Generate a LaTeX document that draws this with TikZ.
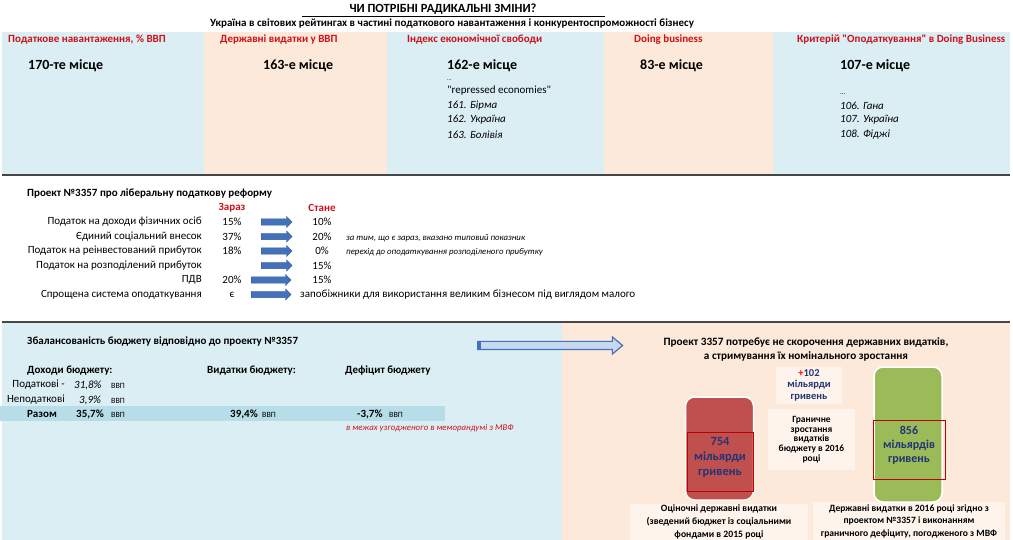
\documentclass[tikz,border=0pt]{standalone}
\usepackage{fontspec}
\setmainfont{Carlito}[Ligatures=TeXOff]
\usepackage{xcolor}
\usepackage{tikz}
\usetikzlibrary{shapes.arrows}

\definecolor{bandblue}{RGB}{219,238,244}
\definecolor{bandpeach}{RGB}{253,233,217}
\definecolor{rowblue}{RGB}{183,222,232}
\definecolor{headred}{RGB}{208,16,24}
\definecolor{arrblue}{RGB}{68,114,186}
\definecolor{arrlight}{RGB}{198,217,241}
\definecolor{boxred}{RGB}{192,80,77}
\definecolor{boxgreen}{RGB}{155,187,89}
\definecolor{numnavy}{RGB}{32,52,120}
\definecolor{rulegray}{RGB}{70,70,70}

\begin{document}
\begin{tikzpicture}[x=1pt, y=-1pt, inner sep=0pt,
    colhead/.style={anchor=west, text=headred, font=\fontsize{11}{13}\selectfont\bfseries},
    rank/.style={anchor=west, font=\fontsize{14}{16}\selectfont\bfseries},
    listitem/.style={anchor=west, font=\fontsize{11}{13}\selectfont\itshape},
    taxname/.style={anchor=east, font=\fontsize{11}{13}\selectfont},
    taxval/.style={font=\fontsize{11}{13}\selectfont},
    note/.style={anchor=west, font=\fontsize{8.8}{10}\selectfont\itshape},
    taxarrow/.style={single arrow, anchor=west, fill=arrblue, draw=arrblue!80!black, line width=0.3pt,
        inner xsep=0pt, inner ysep=3pt, minimum height=31pt, single arrow head extend=2.5pt},
    boldtext/.style={anchor=west, font=\fontsize{11}{13}\selectfont\bfseries},
    gdp/.style={anchor=west, font=\fontsize{8}{9}\selectfont},
    pillar/.style={rounded corners=9pt, draw=white, line width=1.5pt},
    pillarframe/.style={draw=red!75!black, line width=0.7pt},
    pillarnum/.style={align=center, text=numnavy, font=\fontsize{12.5}{15}\selectfont\bfseries},
    infobox/.style={fill=white, fill opacity=0.5, text opacity=1, align=center},
  ]
  \useasboundingbox (0,0) rectangle (1013,540);

  % title
  \node (title) [font=\fontsize{12.5}{14}\selectfont\bfseries] at (443,9) {ЧИ ПОТРІБНІ РАДИКАЛЬНІ ЗМІНИ?};
  \draw [line width=1.2pt] (302,16.5) -- (605,16.5);
  \node (subtitle) [font=\fontsize{11}{13}\selectfont\bfseries] at (452,24) {Україна в світових рейтингах в частині податкового навантаження і конкурентоспроможності бізнесу};

  % rating bands
  \fill [bandblue] (2,32) rectangle (204,174);
  \fill [bandpeach] (204,32) rectangle (387,174);
  \fill [bandblue] (387,32) rectangle (604,174);
  \fill [bandpeach] (604,32) rectangle (773,174);
  \fill [bandblue] (773,32) rectangle (1010,174);
  \draw [rulegray, line width=1.5pt] (2,175) -- (1010,175);

  \node (hload) [colhead] at (8,40) {Податкове навантаження, \% ВВП};
  \node (hspend) [colhead] at (220,40) {Державні видатки у ВВП};
  \node (hfree) [colhead] at (407,40) {Індекс економічної свободи};
  \node (hdoing) [colhead] at (634,40) {Doing business};
  \node (htax) [colhead] at (797,40) {Критерій "Оподаткування" в Doing Business};

  \node (rload) [rank] at (28,66) {170-те місце};
  \node (rspend) [rank] at (263,66) {163-е місце};
  \node (rfree) [rank] at (447,66) {162-е місце};
  \node (rdoing) [rank] at (640,66) {83-е місце};
  \node (rtax) [rank] at (840,66) {107-е місце};

  \node (fdots) [anchor=west, font=\fontsize{6}{7}\selectfont] at (447,80) {...};
  \node (frep) [anchor=west, font=\fontsize{11}{13}\selectfont] at (447,91) {"repressed economies"};
  \node (f161) [listitem] at (447,106) {161. Бірма};
  \node (f162) [listitem] at (447,120) {162. Україна};
  \node (f163) [listitem] at (447,135) {163. Болівія};

  \node (tdots) [anchor=west, font=\fontsize{7}{8}\selectfont] at (840,94) {...};
  \node (t106) [listitem] at (840,106) {106. Гана};
  \node (t107) [listitem] at (840,120) {107. Україна};
  \node (t108) [listitem] at (840,135) {108. Фіджі};

  % tax reform
  \node (reform) [boldtext] at (27,194) {Проект №3357 про ліберальну податкову реформу};
  \node (now) [text=headred, font=\fontsize{11}{13}\selectfont\bfseries] at (232,208) {Зараз};
  \node (later) [text=headred, font=\fontsize{11}{13}\selectfont\bfseries] at (322,208) {Стане};

  \node (pit) [taxname] at (202,222) {Податок на доходи фізичних осіб};
  \node (ssc) [taxname] at (202,236.5) {Єдиний соціальний внесок};
  \node (reinv) [taxname] at (202,251) {Податок на реінвестований прибуток};
  \node (distr) [taxname] at (202,265.5) {Податок на розподілений прибуток};
  \node (vat) [taxname] at (202,280) {ПДВ};
  \node (simple) [taxname] at (202,294.5) {Спрощена система оподаткування};

  \node (pitnow) [taxval] at (232,222) {15\%};
  \node (sscnow) [taxval] at (232,236.5) {37\%};
  \node (reinvnow) [taxval] at (232,251) {18\%};
  \node (vatnow) [taxval] at (232,280) {20\%};
  \node (simplenow) [taxval] at (232,294.5) {є};

  \node (pitarr) [taxarrow] at (261,222) {};
  \node (sscarr) [taxarrow] at (261,236.5) {};
  \node (reinvarr) [taxarrow] at (261,251) {};
  \node (distrarr) [taxarrow] at (261,265.5) {};
  \node (vatarr) [taxarrow, minimum height=40pt] at (251,280) {};
  \node (simplearr) [taxarrow, minimum height=40pt] at (251,294.5) {};

  \node (pitnew) [taxval] at (322,222) {10\%};
  \node (sscnew) [taxval] at (322,236.5) {20\%};
  \node (reinvnew) [taxval] at (322,251) {0\%};
  \node (distrnew) [taxval] at (322,265.5) {15\%};
  \node (vatnew) [taxval] at (322,280) {15\%};
  \node (simplenew) [taxval, anchor=west] at (300,294.5) {запобіжники для використання великим бізнесом під виглядом малого};

  \node (sscnote) [note] at (346,238) {за тим, що є зараз, вказано типовий показник};
  \node (reinvnote) [note] at (346,252.5) {перехід до оподаткування розподіленого прибутку};

  % budget balance
  \draw [rulegray, line width=1.5pt] (2,322) -- (1010,322);
  \fill [bandblue] (2,323) rectangle (562,540);
  \fill [bandpeach] (562,323) rectangle (1010,540);
  \fill [rowblue] (0,406) rectangle (445,421);

  \node (balance) [boldtext] at (27,342) {Збалансованість бюджету відповідно до проекту №3357};
  \node (bigarr) [single arrow, anchor=west, fill=arrlight, draw=arrblue, line width=1.2pt,
      inner xsep=0pt, inner ysep=3.5pt, minimum height=145pt, single arrow head extend=4.5pt,
      single arrow tip angle=80] at (477,345.5) {};
  \fill [arrblue] (477,341.8) rectangle (480.5,349.2);

  \node (income) [boldtext] at (27,371) {Доходи бюджету:};
  \node (spend) [boldtext] at (207,371) {Видатки бюджету:};
  \node (deficit) [boldtext] at (345,371) {Дефіцит бюджету};

  \node (taxinc) [taxname] at (65,385) {Податкові -};
  \node (taxincv) [anchor=west, font=\fontsize{11}{13}\selectfont\itshape] at (74,385) {31,8\%};
  \node (taxincg) [gdp] at (111,386) {ВВП};
  \node (nontax) [taxname] at (65,400) {Неподаткові};
  \node (nontaxv) [anchor=west, font=\fontsize{11}{13}\selectfont\itshape] at (79,400) {3,9\%};
  \node (nontaxg) [gdp] at (111,401) {ВВП};

  \node (total) [font=\fontsize{11}{13}\selectfont\bfseries] at (42,414) {Разом};
  \node (totalinc) [boldtext] at (76,414) {35,7\%};
  \node (totalincg) [gdp] at (111,415) {ВВП};
  \node (totalsp) [boldtext] at (230,414) {39,4\%};
  \node (totalspg) [gdp] at (262,415) {ВВП};
  \node (totaldef) [boldtext] at (357,414) {-3,7\%};
  \node (totaldefg) [gdp] at (389,415) {ВВП};
  \node (imfnote) [note, text=headred] at (346,428) {в межах узгодженого в меморандумі з МВФ};

  % spending pillars
  \node (restrain) [align=center, font=\fontsize{11.2}{14}\selectfont\bfseries] at (806,349) {Проект 3357 потребує не скорочення державних видатків,\\а стримування їх номінального зростання};

  \node (plus) [infobox, minimum width=66pt, minimum height=37pt, text=numnavy, font=\fontsize{10.5}{11.5}\selectfont\bfseries] at (809,385) {\textcolor{red}{+}102\\мільярди\\гривень};
  \node (limit) [infobox, minimum width=87pt, minimum height=61pt, font=\fontsize{9.5}{9.8}\selectfont\bfseries] at (811.5,439.5) {Граничне\\зростання\\видатків\\бюджету в 2016\\році};

  \node (pillar754) [pillar, fill=boxred, minimum width=68pt, minimum height=103pt] at (719.5,448.5) {};
  \node (frame754) [pillarframe, minimum width=66pt, minimum height=59pt] at (720,461.5) {};
  \node (val754) [pillarnum] at (720,457) {754\\мільярди\\гривень};

  \node (pillar856) [pillar, fill=boxgreen, minimum width=68pt, minimum height=135pt] at (908,434.5) {};
  \node (frame856) [pillarframe, minimum width=72pt, minimum height=59pt] at (909,449.5) {};
  \node (val856) [pillarnum, font=\fontsize{12}{14}\selectfont\bfseries] at (909,445) {856\\мільярдів\\гривень};

  \node (cap754) [infobox, minimum width=178pt, minimum height=36pt, font=\fontsize{9.7}{13}\selectfont\bfseries] at (719,522) {Оціночні державні видатки\\(зведений бюджет із соціальними\\фондами в 2015 році};
  \node (cap856) [infobox, minimum width=192pt, minimum height=38pt, font=\fontsize{9.6}{12.5}\selectfont\bfseries] at (909,521) {Державні видатки в 2016 році згідно з\\проектом №3357 і виконанням\\граничного дефіциту, погодженого з МВФ};
\end{tikzpicture}
\end{document}
